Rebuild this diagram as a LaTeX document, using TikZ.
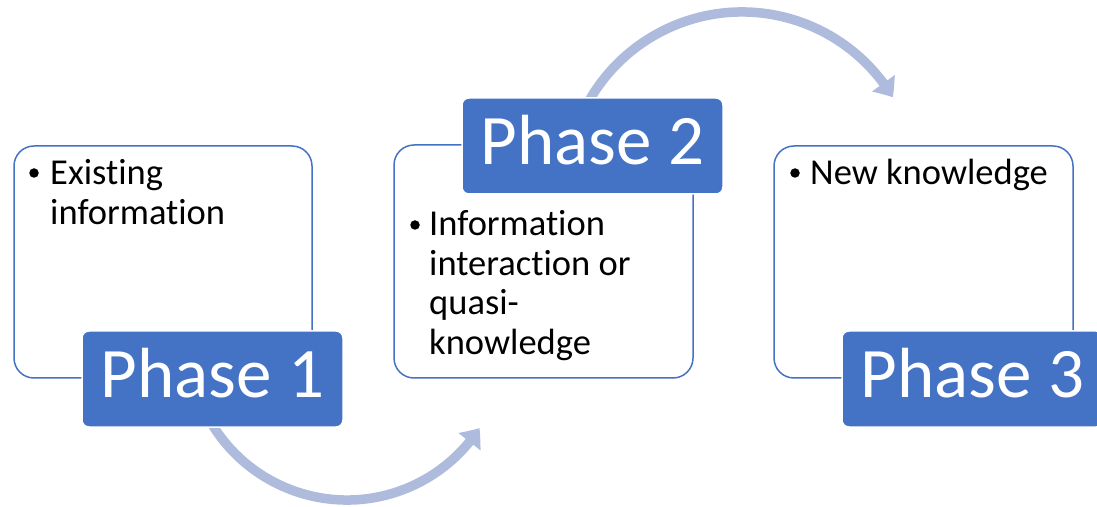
\documentclass[tikz,border=0pt]{standalone}
\usepackage{fontspec}
\setmainfont{Carlito}[Ligatures={NoCommon,NoRare,NoContextual}]
\usetikzlibrary{arrows.meta,bending}
\definecolor{accent}{RGB}{68,114,196}
\definecolor{arrowc}{RGB}{174,187,220}
\tikzset{
  x=1pt,y=1pt,
  infobox/.style={draw=accent, line width=1.5pt, fill=white, rounded corners=20pt,
    rectangle, inner sep=0pt},
  phasebox/.style={draw=white, line width=1.5pt, fill=accent, rounded corners=7pt,
    rectangle, inner sep=0pt, minimum width=261pt, minimum height=96pt},
  phasetext/.style={anchor=base, text=white, inner sep=0pt,
    font=\fontsize{71}{80}\selectfont},
  itemtext/.style={anchor=base west, inner sep=0pt, text=black,
    font=\fontsize{36.5}{40}\selectfont},
  bulletdot/.style={circle, fill=black, inner sep=0pt, minimum size=9.5pt},
  cyclearrow/.style={draw=arrowc, line width=9.5pt,
    -{Triangle[length=17pt,width=27pt,bend]}},
}
\begin{document}
\begin{tikzpicture}
\useasboundingbox (0,0) rectangle (1097,506);
\clip (0,0) rectangle (1097,506);
% content boxes
\node[infobox, minimum width=298pt, minimum height=232pt] (b1) at (163,244) {};
\node[infobox, minimum width=299pt, minimum height=233pt] (b2) at (543.5,244.5) {};
\node[infobox, minimum width=299pt, minimum height=232pt] (b3) at (923.5,244) {};
% arc centres
\coordinate (c1) at (347,164);
\coordinate (c2) at (742,318);
% arrows
\draw[cyclearrow] (c1) ++(200:158) arc[start angle=200, end angle=327, radius=158];
\draw[cyclearrow] (c2) ++(160:176) arc[start angle=160, end angle=31, radius=176];
% phase boxes
\node[phasebox] (p1) at (212.5,127) {};
\node[phasebox] (p2) at (592.5,360) {};
\node[phasebox] (p3) at (972.5,127) {};
\node[phasetext] (pt1) at ([yshift=-19pt]p1.center) {Phase 1};
\node[phasetext] (pt2) at ([yshift=-19pt]p2.center) {Phase 2};
\node[phasetext] (pt3) at ([yshift=-19pt]p3.center) {Phase 3};
% bullets and texts
\node[bulletdot] (d1) at (34,333) {};
\node[itemtext] (t1a) at (50,321) {Existing};
\node[itemtext] (t1b) at (50,281) {information};
\node[bulletdot] (d2) at (415,281) {};
\node[itemtext] (t2a) at (429,270) {Information};
\node[itemtext] (t2b) at (429,230.5) {interaction or};
\node[itemtext] (t2c) at (429,191) {quasi-};
\node[itemtext] (t2d) at (429,151.5) {knowledge};
\node[bulletdot] (d3) at (795,333) {};
\node[itemtext] (t3a) at (810,321) {New knowledge};
\end{tikzpicture}
\end{document}
